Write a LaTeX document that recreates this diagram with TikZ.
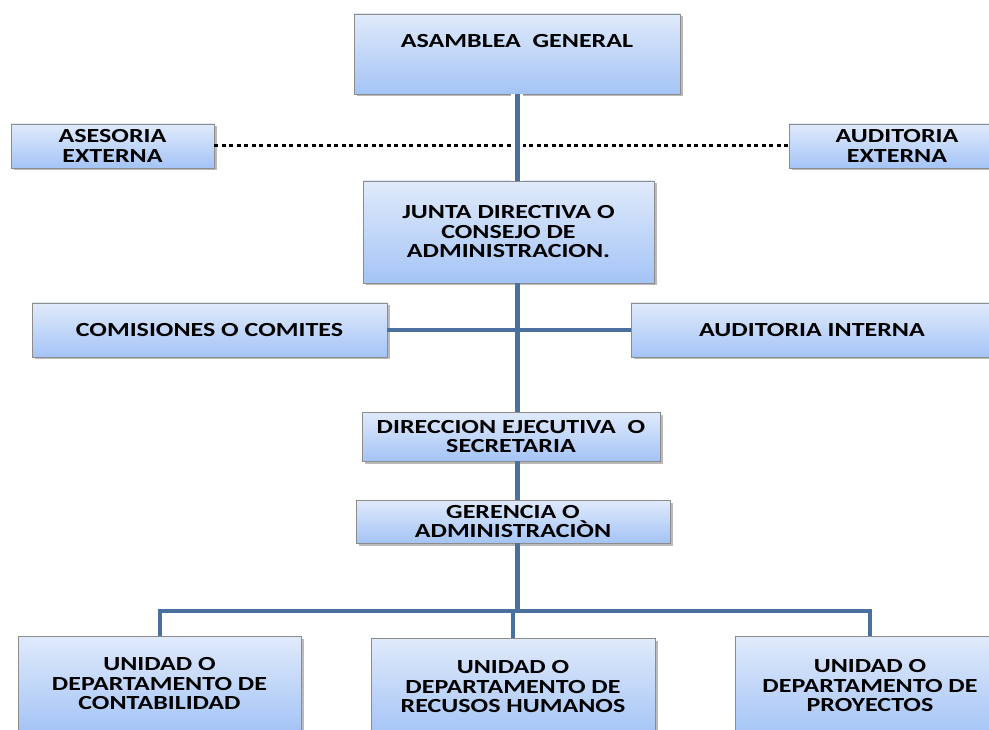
\documentclass[tikz,border=0pt]{standalone}
\usepackage{fontspec}
\setmainfont{Carlito}[FakeStretch=1.3]
\usetikzlibrary{shadows}
\definecolor{boxtop}{RGB}{224,234,251}
\definecolor{boxbot}{RGB}{164,196,246}
\definecolor{boxline}{RGB}{140,140,140}
\definecolor{connc}{RGB}{74,112,160}
\tikzset{
  orgbox/.style={draw=boxline, line width=0.8pt, top color=boxtop, bottom color=boxbot,
    drop shadow={shadow xshift=2.5pt, shadow yshift=-2.5pt, opacity=0.45, fill=black!60},
    inner sep=0pt, align=center, font=\fontsize{20}{19.5}\selectfont\bfseries},
  lbl/.style={font=\fontsize{20}{19.5}\selectfont\bfseries, align=center, inner sep=0pt},
  connline/.style={draw=connc, line width=4pt},
  trunkline/.style={draw=connc, line width=5pt},
  dotline/.style={draw=black, line width=3pt, dash pattern=on 4pt off 3.5pt},
}
\begin{document}
\begin{tikzpicture}[x=1pt,y=-1pt]
\useasboundingbox (0,0) rectangle (989,730);
\clip (0,0) rectangle (989,730);
% boxes
\node[orgbox, minimum width=326pt, minimum height=80pt] (asamblea) at (517,54) {};
\node[lbl] (asambleatxt) at (517,41) {ASAMBLEA\ \ GENERAL};
\node[orgbox, minimum width=203pt, minimum height=44pt] (asesoria) at (112.5,146) {ASESORIA\\EXTERNA};
\node[orgbox, minimum width=216pt, minimum height=44pt] (audext) at (897,146) {AUDITORIA\\EXTERNA};
\node[orgbox, minimum width=291pt, minimum height=102pt] (junta) at (508.5,232) {JUNTA DIRECTIVA O\\CONSEJO DE\\ADMINISTRACION.};
\node[orgbox, minimum width=355pt, minimum height=54pt] (comisiones) at (209.5,330) {COMISIONES O COMITES};
\node[orgbox, minimum width=362pt, minimum height=54pt] (audint) at (812,330) {AUDITORIA INTERNA};
\node[orgbox, minimum width=298pt, minimum height=49pt] (direccion) at (511,436.5) {DIRECCION EJECUTIVA\ \ O\\SECRETARIA};
\node[orgbox, minimum width=314pt, minimum height=43pt] (gerencia) at (513,521.5) {GERENCIA O\\ADMINISTRACIÒN};
\node[orgbox, minimum width=283pt, minimum height=96pt] (u1) at (159.5,684) {UNIDAD O\\DEPARTAMENTO DE\\CONTABILIDAD};
\node[orgbox, minimum width=284pt, minimum height=98pt] (u2) at (513,687) {UNIDAD O\\DEPARTAMENTO DE\\RECUSOS HUMANOS};
\node[orgbox, minimum width=270pt, minimum height=100pt] (u3) at (870,686) {UNIDAD O\\DEPARTAMENTO DE\\PROYECTOS};
\coordinate (bus) at (517,611);
% connectors
\draw[dotline] (asesoria.east) -- (audext.west);
\draw[trunkline, preaction={draw=white, line width=12pt}] (asamblea.south) -- (asamblea.south |- junta.north);
\draw[trunkline] (asamblea.south |- junta.south) -- (asamblea.south |- direccion.north);
\draw[connline] (comisiones.east) -- (audint.west);
\draw[trunkline] (asamblea.south |- direccion.south) -- (asamblea.south |- gerencia.north);
\draw[trunkline] (asamblea.south |- gerencia.south) -- (bus);
\draw[connline] (u1.north) -- (u1.north |- bus) -- (u3.north |- bus) -- (u3.north);
\draw[connline] (u2.north) -- (u2.north |- bus);
\end{tikzpicture}
\end{document}
